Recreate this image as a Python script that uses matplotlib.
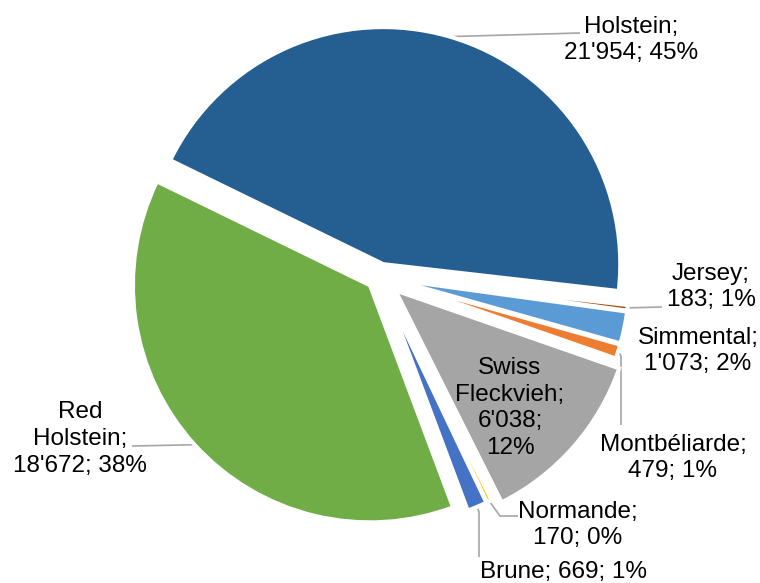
import matplotlib
matplotlib.use("Agg")
import matplotlib.pyplot as plt
import numpy as np

# ---- data ----
breeds = ["Holstein", "Jersey", "Simmental", "Montbéliarde",
          "Swiss Fleckvieh", "Normande", "Brune", "Red Holstein"]
counts = [21954, 183, 1073, 479, 6038, 170, 669, 18672]
count_labels = ["21'954", "183", "1'073", "479", "6'038", "170", "669", "18'672"]
pct_labels = ["45%", "1%", "2%", "1%", "12%", "0%", "1%", "38%"]

colors = ["#255E91", "#9E480E", "#5B9BD5", "#ED7D31",
          "#A5A5A5", "#FFC000", "#4472C4", "#70AD47"]

W, H = 760, 583
fig = plt.figure(figsize=(W / 100, H / 100), dpi=100)
ax = fig.add_axes([0, 0, 1, 1])


def Y(y):
    return H - y


explode = [13, 13, 13, 13, 21, 13, 13, 13]
wedges, _ = ax.pie(counts, colors=colors, startangle=154, counterclock=False,
                   radius=237, center=(379.6, Y(276.6)), explode=explode,
                   wedgeprops=dict(edgecolor="white", linewidth=2.9))
ax.set_xlim(0, W)
ax.set_ylim(0, H)
ax.set_aspect("equal")
ax.axis("off")

FONT = "Liberation Sans"
FS = 17.5
LC = "#A6A6A6"

# label layout: (text x, text y in image px, line break style, leader end points)
layouts = [
    (631, 40, "two", [(580, 33)]),
    (711, 287, "two", [(662, 307)]),
    (698, 351, "two", None),
    (673, 458, "two", [(621, 356), (621, 425)]),
    (510, 408, "four", None),
    (578, 525, "two", [(500, 516), (518, 516)]),
    (563, 572, "one", [(479, 512), (479, 557)]),
    (80, 439, "three", [(132, 446)]),
]

for w, name, c, p, (tx, ty, style, leader) in zip(wedges, breeds, count_labels,
                                                   pct_labels, layouts):
    if style == "two":
        s = f"{name};\n{c}; {p}"
    elif style == "one":
        s = f"{name}; {c}; {p}"
    elif style == "three":
        s = name.replace(" ", "\n") + f";\n{c}; {p}"
    else:
        s = name.replace(" ", "\n") + f";\n{c};\n{p}"
    ax.text(tx, Y(ty), s, ha="center", va="center", multialignment="center",
            fontsize=FS, family=FONT, color="black", linespacing=1.28)
    if leader:
        cx, cy = w.center
        th = np.deg2rad((w.theta1 + w.theta2) / 2)
        ax_ = cx + w.r * np.cos(th)
        ay_ = cy + w.r * np.sin(th)
        xs = [ax_] + [pt[0] for pt in leader]
        ys = [ay_] + [Y(pt[1]) for pt in leader]
        ax.plot(xs, ys, color=LC, lw=1.2, solid_capstyle="butt", zorder=0.5)

fig.savefig("out.png", dpi=100)
